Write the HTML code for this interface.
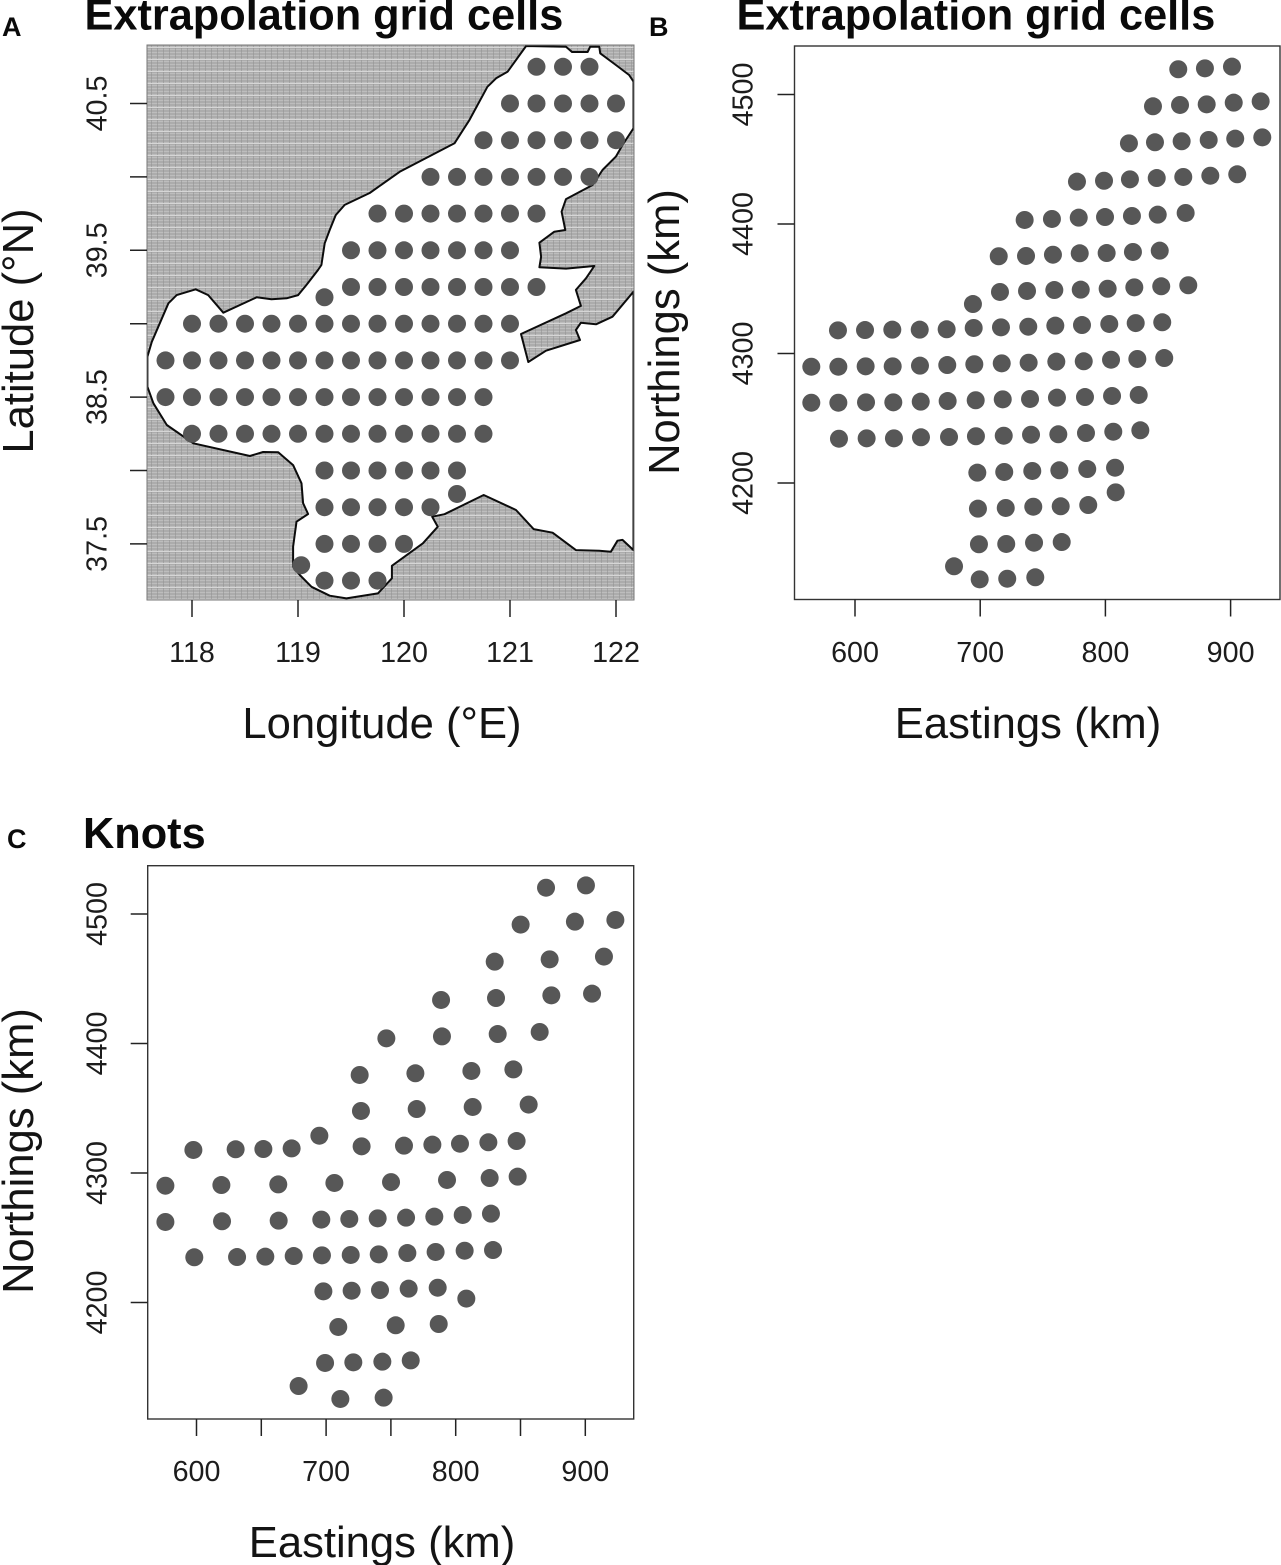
<!DOCTYPE html>
<html lang="en">
<head>
<meta charset="utf-8">
<title>Extrapolation grid cells and knots</title>
<style>
html,body{margin:0;padding:0;background:#fff;}
svg{display:block;}
text{font-family:"Liberation Sans",Arial,sans-serif;fill:#141414;}
.title{font-size:43.3px;font-weight:bold;fill:#0a0a0a;}
.letter{font-size:27px;font-weight:bold;fill:#0a0a0a;}
.axis-label{font-size:43.6px;}
.tick{font-size:28.7px;fill:#1c1c1c;}
</style>
</head>
<body>
<svg id="figure" xmlns="http://www.w3.org/2000/svg" width="1281" height="1565" viewBox="0 0 1281 1565">
  <defs>
    <pattern id="land-texture" width="12" height="12" patternUnits="userSpaceOnUse">
      <rect width="12" height="12" fill="#acacac"/>
      <path d="M0 1.5H12M0 4.5H12M0 7.5H12M0 10.5H12" stroke="#bdbdbd" stroke-width="1"/>
      <path d="M1.5 0V12M7.5 0V12" stroke="#929292" stroke-width="1" opacity=".6"/>
      <path d="M0 11.5H12" stroke="#d6d6d6" stroke-width="1"/>
    </pattern>
    <clipPath id="clip-a"><rect x="147" y="45" width="487" height="555"/></clipPath>
  </defs>

  <text class="letter" x="2" y="36">A</text>
  <text class="letter" x="649" y="36">B</text>
  <text class="letter" x="7" y="848">C</text>

  <text class="title" x="84.5" y="29.5">Extrapolation grid cells</text>
  <text class="title" x="736.5" y="29.5">Extrapolation grid cells</text>
  <text class="title" x="83" y="848">Knots</text>

  <text class="axis-label" x="382" y="738" text-anchor="middle">Longitude (°E)</text>
  <text class="axis-label" x="1028" y="738" text-anchor="middle">Eastings (km)</text>
  <text class="axis-label" x="382" y="1557" text-anchor="middle">Eastings (km)</text>

  <text class="axis-label" transform="translate(33 331) rotate(-90)" text-anchor="middle">Latitude (°N)</text>
  <text class="axis-label" transform="translate(679 332) rotate(-90)" text-anchor="middle">Northings (km)</text>
  <text class="axis-label" transform="translate(33 1151) rotate(-90)" text-anchor="middle">Northings (km)</text>

  <g id="panel-a">
    <rect x="147" y="45" width="487" height="555" fill="url(#land-texture)"/>
    <g clip-path="url(#clip-a)"><polygon id="coast" fill="#fff" stroke="#0c0c0c" stroke-width="2" stroke-linejoin="round"/></g>
    <rect x="147" y="45" width="487" height="555" fill="none" stroke="#777" stroke-width="1"/>
    <g id="dots-a"></g>
    <g id="axes-a"></g>
  </g>
  <g id="panel-b">
    <rect x="794.5" y="46" width="485.5" height="553.5" fill="none" stroke="#333" stroke-width="1.4"/>
    <g id="dots-b"></g>
    <g id="axes-b"></g>
  </g>
  <g id="panel-c">
    <rect x="147.7" y="865.7" width="486" height="553.3" fill="none" stroke="#333" stroke-width="1.4"/>
    <g id="dots-c"></g>
    <g id="axes-c"></g>
  </g>
</svg>

<script>
// Panel A: coastline (lon / lat, degrees)
const coastLon = [121.152,121.528,121.585,121.732,121.757,121.842,121.851,121.999,122.124,122.165,122.165,122.061,121.999,121.873,121.811,121.779,121.528,121.487,121.522,121.418,121.277,121.293,121.277,121.528,121.795,121.717,121.622,121.669,121.528,121.104,121.173,121.340,121.660,121.622,121.669,121.811,121.967,122.165,122.165,122.061,122.014,121.952,121.842,121.622,121.402,121.223,121.057,120.752,120.382,120.266,120.319,120.178,119.886,119.886,119.754,119.457,119.299,119.127,119.017,118.954,118.954,118.986,119.095,119.048,119.033,118.954,118.813,118.671,118.546,118.012,117.762,117.636,117.579,117.579,117.621,117.777,117.856,118.035,118.153,118.295,118.609,118.750,118.892,119.001,119.080,119.189,119.221,119.252,119.299,119.356,119.441,119.676,119.959,120.476,120.618,120.787,120.869,120.978];
const coastLat = [40.892,40.887,40.851,40.851,40.887,40.887,40.842,40.762,40.694,40.649,40.331,40.217,40.138,40.047,39.979,39.945,39.849,39.763,39.638,39.627,39.552,39.456,39.384,39.375,39.393,39.309,39.230,39.121,39.071,38.930,38.739,38.816,38.889,38.957,39.007,38.996,39.048,39.218,37.458,37.527,37.522,37.447,37.454,37.458,37.576,37.601,37.731,37.833,37.702,37.685,37.617,37.504,37.351,37.266,37.163,37.129,37.147,37.208,37.288,37.345,37.481,37.651,37.704,37.777,37.913,38.037,38.124,38.126,38.099,38.185,38.310,38.458,38.571,38.775,38.877,39.139,39.195,39.234,39.195,39.075,39.180,39.166,39.173,39.195,39.264,39.366,39.400,39.548,39.638,39.740,39.809,39.890,40.035,40.229,40.388,40.614,40.672,40.717];

// Panel A: grid cell positions (lon / lat, degrees)
const gridLon = [
121.25,121.5,121.75,
121,121.25,121.5,121.75,122,
120.75,121,121.25,121.5,121.75,122,
120.25,120.5,120.75,121,121.25,121.5,121.75,
119.75,120,120.25,120.5,120.75,121,121.25,
119.5,119.75,120,120.25,120.5,120.75,121,
119.5,119.75,120,120.25,120.5,120.75,121,121.25,
119.25,
118,118.25,118.5,118.75,119,119.25,119.5,119.75,120,120.25,120.5,120.75,121,
117.75,118,118.25,118.5,118.75,119,119.25,119.5,119.75,120,120.25,120.5,120.75,121,
117.75,118,118.25,118.5,118.75,119,119.25,119.5,119.75,120,120.25,120.5,120.75,
118,118.25,118.5,118.75,119,119.25,119.5,119.75,120,120.25,120.5,120.75,
119.25,119.5,119.75,120,120.25,120.5,
120.5,
119.25,119.5,119.75,120,120.25,
119.25,119.5,119.75,120,
119.03,
119.25,119.5,119.75];
const gridLat = [
40.75,40.75,40.75,
40.5,40.5,40.5,40.5,40.5,
40.25,40.25,40.25,40.25,40.25,40.25,
40,40,40,40,40,40,40,
39.75,39.75,39.75,39.75,39.75,39.75,39.75,
39.5,39.5,39.5,39.5,39.5,39.5,39.5,
39.25,39.25,39.25,39.25,39.25,39.25,39.25,39.25,
39.18,
39,39,39,39,39,39,39,39,39,39,39,39,39,
38.75,38.75,38.75,38.75,38.75,38.75,38.75,38.75,38.75,38.75,38.75,38.75,38.75,38.75,
38.5,38.5,38.5,38.5,38.5,38.5,38.5,38.5,38.5,38.5,38.5,38.5,38.5,
38.25,38.25,38.25,38.25,38.25,38.25,38.25,38.25,38.25,38.25,38.25,38.25,
38,38,38,38,38,38,
37.84,
37.75,37.75,37.75,37.75,37.75,
37.5,37.5,37.5,37.5,
37.355,
37.25,37.25,37.25];

// Panel B: grid cells (km)
const cellEast = [
858.2,879.5,901.1,
838.0,859.6,880.9,902.5,924.0,
818.8,839.6,860.9,882.5,903.7,925.3,
777.3,798.9,819.6,841.0,862.2,883.8,905.3,
735.5,757.3,778.7,799.7,821.2,841.8,864.1,
714.8,736.6,758.1,779.5,801.0,822.0,843.4,
715.8,737.4,759.2,780.3,801.8,823.1,844.6,866.2,
694.2,
586.4,608.0,629.8,651.7,673.2,694.8,716.6,738.4,760.0,781.3,803.1,824.2,845.4,
565.1,586.7,608.5,630.1,651.9,673.7,695.3,717.2,738.7,760.8,782.7,804.5,825.5,847.0,
565.1,586.7,608.8,630.6,652.5,674.0,696.4,718.0,739.8,761.3,783.7,805.3,826.6,
587.2,609.3,631.1,652.7,675.1,696.6,718.8,740.6,762.4,784.5,806.3,827.9,
697.7,719.2,741.6,763.2,785.5,807.7,
808.2,
698.2,720.4,742.4,764.3,786.3,
699.0,720.8,743.0,765.1,
679.1,
699.6,721.6,744.0];
const cellNorth = [
4519.5,4520.2,4521.5,
4490.9,4491.9,4492.4,4493.7,4494.7,
4462.3,4463.1,4463.9,4464.9,4465.9,4466.9,
4432.7,4433.4,4434.5,4435.5,4436.3,4437.3,4438.4,
4403.1,4403.9,4404.9,4405.4,4406.2,4407.2,4408.5,
4375.1,4375.3,4376.3,4377.4,4377.6,4378.4,4379.4,
4347.5,4348.3,4349.0,4349.3,4350.0,4351.1,4351.9,4352.7,
4338.2,
4317.9,4318.1,4318.4,4318.4,4318.7,4319.7,4320.2,4320.7,4321.5,4322.0,4322.8,4323.5,4324.1,
4289.8,4289.8,4290.1,4290.1,4290.6,4291.1,4291.7,4292.4,4292.9,4293.7,4294.0,4295.2,4295.8,4296.5,
4262.0,4262.0,4262.3,4262.3,4262.8,4263.3,4263.9,4264.6,4264.9,4265.9,4266.4,4267.2,4268.0,
4234.2,4234.5,4234.5,4235.3,4235.5,4236.1,4236.5,4237.3,4237.6,4238.6,4239.6,4240.7,
4208.0,4208.5,4209.3,4209.8,4210.8,4211.8,
4192.8,
4180.2,4180.7,4181.7,4182.0,4183.0,
4152.7,4152.9,4153.9,4154.4,
4135.7,
4125.6,4126.1,4127.2];

// Panel C: knots (km)
const knotEast = [
869.7,900.5,
850.1,892.0,923.2,
830.1,872.5,914.4,
788.7,831.1,873.8,905.2,
746.5,789.4,832.4,864.8,
725.9,768.9,812.1,844.5,
726.9,769.9,813.1,856.3,
694.8,
597.6,630.2,651.6,673.4,727.4,760.1,782.0,803.3,825.2,847.0,
576.0,619.2,663.1,706.4,750.1,793.3,826.2,847.8,
576.0,619.7,663.4,696.3,717.9,739.8,761.7,783.5,805.4,827.2,
598.3,631.3,653.1,675.0,696.8,719.0,740.6,762.7,784.5,806.9,828.8,
697.9,719.7,741.6,763.7,786.1,808.2,
709.4,753.7,786.9,
699.2,721.0,743.4,765.3,
678.8,
711.0,744.4];
const knotNorth = [
4520.3,4522.1,
4491.8,4494.1,4495.4,
4463.2,4465.0,4467.1,
4433.6,4435.1,4437.2,4438.5,
4404.0,4405.5,4407.3,4408.9,
4375.7,4377.0,4378.8,4380.0,
4347.9,4349.4,4351.0,4352.8,
4328.8,
4317.8,4318.3,4318.5,4319.0,4320.6,4321.1,4321.9,4322.6,4323.7,4324.7,
4290.2,4290.7,4291.2,4292.3,4293.0,4294.6,4296.1,4297.2,
4262.2,4262.7,4263.2,4264.0,4264.5,4265.0,4265.5,4266.3,4267.6,4268.6,
4234.9,4235.1,4235.4,4235.9,4236.4,4236.7,4237.2,4238.2,4239.0,4240.0,4240.5,
4208.6,4209.1,4209.6,4210.7,4211.4,4203.0,
4181.1,4182.4,4183.4,
4153.3,4153.8,4154.3,4155.3,
4135.5,
4125.5,4126.5];

// Axis ticks
const lonTicks = [118,119,120,121,122];
const latTicks = [37.5,38,38.5,39,39.5,40,40.5];
const latTickLabels = ["37.5","","38.5","","39.5","","40.5"];
const eastTicksB = [600,700,800,900];
const eastTicksC = [600,650,700,750,800,850,900];
const eastTickLabelsC = ["600","","700","","800","","900"];
const northTicks = [4200,4300,4400,4500];

const SVG_NS = 'http://www.w3.org/2000/svg';

// Axis functions
const xA = v => 192 + (v - 118) * 106;
const yA = v => 103.5 + (40.5 - v) * 146.8;
const xB = v => 855 + (v - 600) * 1.252;
const yB = v => 94.5 + (4500 - v) * 1.295;
const xC = v => 196.5 + (v - 600) * 1.296;
const yC = v => 914 + (4500 - v) * 1.295;

function make(tag, attrs) {
  const el = document.createElementNS(SVG_NS, tag);
  for (const k in attrs) el.setAttribute(k, attrs[k]);
  return el;
}

function drawDots(parent, xs, ys, fx, fy, name) {
  for (let i = 0; i < xs.length; i++) {
    const c = make('circle', {cx: fx(xs[i]).toFixed(2), cy: fy(ys[i]).toFixed(2), r: 9, fill: '#575757'});
    
    
    parent.appendChild(c);
  }
}

function drawXAxis(parent, ticks, labels, fx, y0, labelY, prefix) {
  ticks.forEach((t, i) => {
    const x = fx(t);
    const line = make('line', {x1: x, x2: x, y1: y0, y2: y0 + 17, stroke: '#222', 'stroke-width': 1.5});
    
    
    parent.appendChild(line);
    if (labels[i] !== '') {
      const txt = make('text', {x: x, y: labelY, 'text-anchor': 'middle', class: 'tick'});
      
      
      txt.textContent = labels[i];
      parent.appendChild(txt);
    }
  });
}

function drawYAxis(parent, ticks, labels, fy, x0, labelX, prefix) {
  ticks.forEach((t, i) => {
    const y = fy(t);
    const line = make('line', {x1: x0 - 17, x2: x0, y1: y, y2: y, stroke: '#222', 'stroke-width': 1.5});
    
    
    parent.appendChild(line);
    if (labels[i] !== '') {
      const txt = make('text', {transform: 'translate(' + labelX + ' ' + y + ') rotate(-90)', 'text-anchor': 'middle', class: 'tick'});
      
      
      txt.textContent = labels[i];
      parent.appendChild(txt);
    }
  });
}

document.getElementById('coast').setAttribute('points',
  coastLon.map((v, i) => xA(v).toFixed(1) + ',' + yA(coastLat[i]).toFixed(1)).join(' '));

drawDots(document.getElementById('dots-a'), gridLon, gridLat, xA, yA, 'grid-cell-point');
drawDots(document.getElementById('dots-b'), cellEast, cellNorth, xB, yB, 'grid-cell-point');
drawDots(document.getElementById('dots-c'), knotEast, knotNorth, xC, yC, 'knot-point');

drawXAxis(document.getElementById('axes-a'), lonTicks, lonTicks.map(String), xA, 600, 662, 'panel-a');
drawYAxis(document.getElementById('axes-a'), latTicks, latTickLabels, yA, 147, 106.5, 'panel-a');
drawXAxis(document.getElementById('axes-b'), eastTicksB, eastTicksB.map(String), xB, 599.5, 662, 'panel-b');
drawYAxis(document.getElementById('axes-b'), northTicks, northTicks.map(String), yB, 794.5, 752.5, 'panel-b');
drawXAxis(document.getElementById('axes-c'), eastTicksC, eastTickLabelsC, xC, 1419, 1481, 'panel-c');
drawYAxis(document.getElementById('axes-c'), northTicks, northTicks.map(String), yC, 147.7, 106.5, 'panel-c');
</script>
</body>
</html>
